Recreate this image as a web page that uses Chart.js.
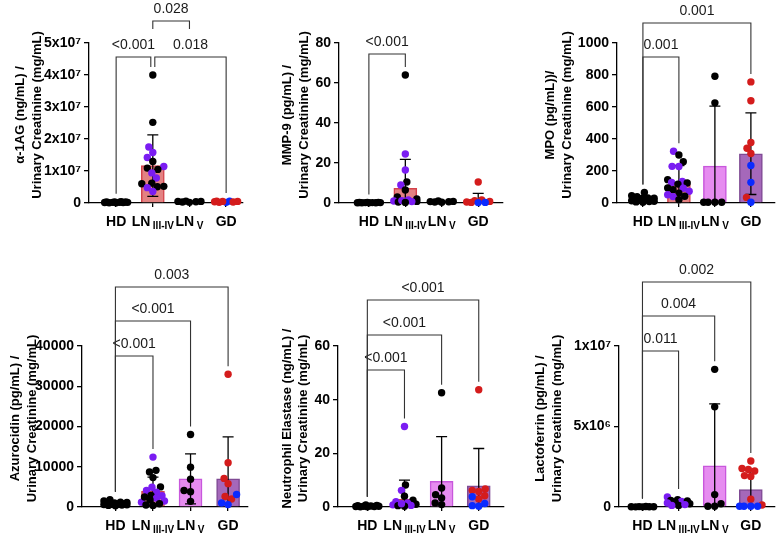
<!DOCTYPE html>
<html><head><meta charset="utf-8">
<script src="https://cdn.jsdelivr.net/npm/chart.js@4.4.1/dist/chart.umd.min.js"></script>
<style>
html,body{margin:0;padding:0;background:#fff;}
#wrap{position:relative;width:779px;height:537px;overflow:hidden;background:#fff;}
canvas{position:absolute;}
</style></head><body><div id="wrap"></div>
<script>
// ---------------- DATA ----------------
const categories = ['HD', 'LN', 'LN', 'GD'];
const categorySubscripts = ['', 'III-IV', 'V', ''];
// subgroup codes: k = black, p = purple, b = blue, r = red

// α-1AG
const a1agHD = [3e5, 1e5, 2e5, 4e5, 1.5e5, 2.5e5, 1e5, 3e5, 2e5, 3.5e5, 1.5e5];
const a1agLN = [4.0e7, 2.52e7, 1.75e7, 1.58e7, 1.42e7, 1.30e7, 1.14e7, 1.09e7, 1.05e7, 0.94e7, 0.78e7, 0.62e7, 0.60e7, 0.52e7, 0.51e7, 0.48e7, 0.36e7];
const a1agLNSub = ['k','k','p','p','p','k','p','k','k','p','p','k','k','k','k','p','p'];
const a1agLNV = [5e5, 3e5, 4e5, 6e5, 2e5, 5e5];
const a1agGD = [6e5, 2e5, 5e5, 4e5, 6e5, 3e5, 2e5, 5e5];
const a1agGDSub = ['b','b','r','r','r','r','r','r'];
const a1agMean = [2.5e5, 1.17e7, 4e5, 4e5];
const a1agSD = [1.2e5, 0.96e7, 1.5e5, 2e5];
const a1agYTicks = [0, 1e7, 2e7, 3e7, 4e7, 5e7];
const a1agYTickLabels = ['0', '1x10⁷', '2x10⁷', '3x10⁷', '4x10⁷', '5x10⁷'];
const a1agComparisons = [[0, 1, '<0.001'], [1, 3, '0.018'], [1, 2, '0.028']];

// MMP-9
const mmp9HD = [0.2, 0.1, 0.3, 0.15, 0.25, 0.1, 0.2, 0.3, 0.15, 0.2];
const mmp9LN = [64, 24.5, 16.5, 10.5, 9, 6.5, 3, 2, 1.5, 1, 0.8, 0.5, 1.2, 0.7, 0.3];
const mmp9LNSub = ['k','p','p','k','p','k','k','k','p','p','k','k','p','p','k'];
const mmp9LNV = [0.8, 0.5, 1.0, 0.6, 0.4, 0.7];
const mmp9GD = [10.5, 1.5, 1.2, 0.8, 0.5, 0.3, 0.3, 0.2];
const mmp9GDSub = ['r','r','r','r','r','r','b','b'];
const mmp9Mean = [0.2, 7.3, 0.65, 1.8];
const mmp9SD = [0.1, 14.5, 0.2, 3.0];
const mmp9YTicks = [0, 20, 40, 60, 80];
const mmp9YTickLabels = ['0', '20', '40', '60', '80'];
const mmp9Comparisons = [[0, 1, '<0.001']];

// MPO
const mpoHD = [66, 45, 40, 32, 28, 24, 20, 17, 14, 11, 9, 7, 5, 22, 30];
const mpoLN = [323, 300, 258, 229, 228, 146, 135, 128, 125, 118, 94, 92, 83, 73, 62, 52, 42, 40, 21];
const mpoLNSub = ['p','k','k','p','p','k','p','p','k','k','k','p','k','p','k','p','k','p','k'];
const mpoLNV = [792, 626, 5, 5, 5, 5];
const mpoGD = [757, 639, 378, 342, 309, 35, 234, 129, 5];
const mpoGDSub = ['r','r','r','r','r','r','b','b','b'];
const mpoMean = [25, 115, 230, 308];
const mpoSD = [15, 118, 375, 255];
const mpoYTicks = [0, 200, 400, 600, 800, 1000];
const mpoYTickLabels = ['0', '200', '400', '600', '800', '1000'];
const mpoComparisons = [[0, 1, '0.001'], [0, 3, '0.001']];

// Azurocidin
const azuHD = [1800, 1500, 1200, 1000, 900, 800, 700, 600, 500, 400, 300, 1100, 650, 550];
const azuLN = [12400, 9100, 8700, 7300, 5000, 4900, 4100, 3700, 2900, 2800, 2200, 1800, 1500, 1200, 800, 500, 400, 2500];
const azuLNSub = ['p','k','k','k','k','p','p','p','k','p','p','k','p','p','k','k','k','k'];
const azuLNV = [18000, 9900, 6900, 4100, 3800, 1400];
const azuGD = [33000, 11000, 7100, 5800, 2600, 2000, 3100, 1000, 600];
const azuGDSub = ['r','r','r','r','r','r','b','b','b'];
const azuMean = [900, 3900, 7000, 7000];
const azuSD = [500, 3500, 6200, 10400];
const azuYTicks = [0, 10000, 20000, 30000, 40000];
const azuYTickLabels = ['0', '10000', '20000', '30000', '40000'];
const azuComparisons = [[0, 1, '<0.001'], [0, 2, '<0.001'], [0, 3, '0.003']];

// Neutrophil Elastase
const neHD = [0.8, 0.5, 0.3, 0.2, 0.4, 0.1, 0.3, 0.2, 0.1, 0.6];
const neLN = [30, 8.2, 6.2, 4.0, 2.5, 2.0, 1.5, 1.0, 0.8, 0.5, 0.6, 0.3, 1.2];
const neLNSub = ['p','k','p','k','k','p','p','k','p','k','p','k','p'];
const neLNV = [42.6, 7.1, 4.6, 3.4, 1.5, 0.9];
const neGD = [43.7, 6.7, 6.2, 5.8, 4.2, 3.0, 3.8, 1.3, 0.5, 0.3];
const neGDSub = ['r','r','r','r','r','r','b','b','b','b'];
const neMean = [0.35, 2.9, 9.6, 7.9];
const neSD = [0.2, 7.1, 16.6, 13.9];
const neYTicks = [0, 20, 40, 60];
const neYTickLabels = ['0', '20', '40', '60'];
const neComparisons = [[0, 1, '<0.001'], [0, 2, '<0.001'], [0, 3, '<0.001']];

// Lactoferrin
const lfHD = [2e4, 1e4, 3e4, 1.5e4, 2.5e4, 1e4, 2e4];
const lfLN = [6.2e5, 4.5e5, 4.0e5, 3.5e5, 3.0e5, 2.5e5, 2.0e5, 1.0e5, 1.0e5, 3.8e5, 1.5e5];
const lfLNSub = ['p','k','k','p','k','p','k','k','p','k','p'];
const lfLNV = [8.55e6, 6.22e6, 0.77e6, 0.2e6, 0.05e6, 0.05e6];
const lfGD = [2.86e6, 2.39e6, 2.33e6, 2.24e6, 1.95e6, 1.9e6, 0.48e6, 0.12e6, 0.05e6, 0.05e6, 0.05e6, 0.05e6];
const lfGDSub = ['r','r','r','r','r','r','r','r','b','b','b','b'];
const lfMean = [2e4, 2.8e5, 2.55e6, 1.08e6];
const lfSD = [1e4, 1.5e5, 3.85e6, 1.2e6];
const lfYTicks = [0, 5e6, 1e7];
const lfYTickLabels = ['0', '5x10⁶', '1x10⁷'];
const lfComparisons = [[0, 1, '0.011'], [0, 2, '0.004'], [0, 3, '0.002']];

// ---------------- STYLE / LAYOUT ----------------
const FONT = "'Liberation Sans', Arial, Helvetica, sans-serif";
const pointColors = { k: '#000000', p: '#7a1cf2', b: '#0a2aff', r: '#d41c1c' };
const barFill = ['#ffffff', '#e38282', '#e68cf0', '#a568ba'];
const barLine = ['#000000', '#d4424a', '#c857dc', '#7f4a94'];

const panels = [
  { title: ['α-1AG (ng/mL) /', 'Urinary Creatinine (mg/mL)'], groups: [a1agHD, a1agLN, a1agLNV, a1agGD],
    subs: [null, a1agLNSub, null, a1agGDSub], mean: a1agMean, sd: a1agSD, yTicks: a1agYTicks, yLabels: a1agYTickLabels, comps: a1agComparisons },
  { title: ['MMP-9 (pg/mL) /', 'Urinary Creatinine (mg/mL)'], groups: [mmp9HD, mmp9LN, mmp9LNV, mmp9GD],
    subs: [null, mmp9LNSub, null, mmp9GDSub], mean: mmp9Mean, sd: mmp9SD, yTicks: mmp9YTicks, yLabels: mmp9YTickLabels, comps: mmp9Comparisons },
  { title: ['MPO (pg/mL))/', 'Urinary Creatinine (mg/mL)'], groups: [mpoHD, mpoLN, mpoLNV, mpoGD],
    subs: [null, mpoLNSub, null, mpoGDSub], mean: mpoMean, sd: mpoSD, yTicks: mpoYTicks, yLabels: mpoYTickLabels, comps: mpoComparisons },
  { title: ['Azurocidin (pg/mL) /', 'Urinary Creatinine (mg/mL)'], groups: [azuHD, azuLN, azuLNV, azuGD],
    subs: [null, azuLNSub, null, azuGDSub], mean: azuMean, sd: azuSD, yTicks: azuYTicks, yLabels: azuYTickLabels, comps: azuComparisons },
  { title: ['Neutrophil Elastase (ng/mL) /', 'Urinary Creatinine (mg/mL)'], groups: [neHD, neLN, neLNV, neGD],
    subs: [null, neLNSub, null, neGDSub], mean: neMean, sd: neSD, yTicks: neYTicks, yLabels: neYTickLabels, comps: neComparisons },
  { title: ['Lactoferrin (pg/mL) /', 'Urinary Creatinine (mg/mL)'], groups: [lfHD, lfLN, lfLNV, lfGD],
    subs: [null, lfLNSub, null, lfGDSub], mean: lfMean, sd: lfSD, yTicks: lfYTicks, yLabels: lfYTickLabels, comps: lfComparisons }
];

const layouts = [
  { left: 0, top: 0, w: 260, h: 260, l: 89, r: 243, t: 43, b: 203, xMin: -0.74, xMax: 3.46, titleX: [20, 37],
    br: [{ y: 57, nb: -2 }, { y: 57, na: 2 }, { y: 21, legs: 29 }] },
  { left: 260, top: 0, w: 260, h: 260, l: 79, r: 243, t: 43, b: 203, xMin: -0.82, xMax: 3.68, titleX: [27, 44],
    br: [{ y: 54 }] },
  { left: 520, top: 0, w: 259, h: 260, l: 97, r: 259, t: 43, b: 203, xMin: -0.72, xMax: 3.67, titleX: [30, 47],
    br: [{ y: 57 }, { y: 23 }] },
  { left: 0, top: 260, w: 260, h: 277, l: 82, r: 248, t: 86, b: 247, xMin: -0.89, xMax: 3.53, titleX: [15, 32],
    br: [{ y: 96 }, { y: 61 }, { y: 27 }] },
  { left: 260, top: 260, w: 260, h: 277, l: 78, r: 244, t: 86, b: 247, xMin: -0.79, xMax: 3.68, titleX: [27, 43],
    br: [{ y: 110 }, { y: 75 }, { y: 40 }] },
  { left: 520, top: 260, w: 259, h: 277, l: 99, r: 259, t: 86, b: 247, xMin: -0.65, xMax: 3.67, titleX: [20, 37],
    br: [{ y: 91 }, { y: 56 }, { y: 22 }] }
];

const POINT_R = 3.7;

// simple beeswarm (layout only): horizontal offsets so dots do not pile up
function swarm(values, pxX, pxY) {
  const D = 2 * POINT_R * 0.9, H = 11.5;
  const idx = values.map((v, i) => i).sort((i, j) => values[i] - values[j]);
  const placed = [];
  const off = new Array(values.length).fill(0);
  idx.forEach(i => {
    const y = values[i] * pxY;
    let best = 0, bestCost = Infinity;
    for (let s = 0; s <= 2 * H * 2; s++) {
      const dx = (s % 2 === 0 ? 1 : -1) * Math.ceil(s / 2) * 0.5;
      if (Math.abs(dx) > H) continue;
      let cost = 0.003 * dx * dx;
      placed.forEach(p => { const d = Math.hypot(dx - p.x, y - p.y); if (d < D) cost += (D - d) * (D - d); });
      if (cost < bestCost - 1e-9) { bestCost = cost; best = dx; }
    }
    placed.push({ x: best, y });
    off[i] = best / pxX;
  });
  return off;
}

function makeDecor(P, L) {
  return {
    id: 'decor',
    afterDatasetDraw(chart, args) {
      if (args.index !== 0) return;
      const xs = chart.scales.x, ys = chart.scales.y, ctx = chart.ctx;
      ctx.save();
      ctx.strokeStyle = '#000'; ctx.lineWidth = 1.3;
      const cap = 11;
      P.mean.forEach((m, i) => {
        const x = xs.getPixelForValue(i);
        const hi = ys.getPixelForValue(m + P.sd[i]);
        const lowVal = m - P.sd[i];
        const lo = ys.getPixelForValue(Math.max(0, lowVal));
        ctx.beginPath();
        ctx.moveTo(x, hi); ctx.lineTo(x, lo);
        ctx.moveTo(x - cap / 2, hi); ctx.lineTo(x + cap / 2, hi);
        if (lowVal > 0) { ctx.moveTo(x - cap / 2, lo); ctx.lineTo(x + cap / 2, lo); }
        ctx.stroke();
      });
      ctx.restore();
    },
    afterDraw(chart) {
      const xs = chart.scales.x, ys = chart.scales.y, ctx = chart.ctx;
      ctx.save();
      // significance brackets
      ctx.strokeStyle = '#333'; ctx.lineWidth = 1.1;
      ctx.fillStyle = '#1a1a1a';
      ctx.font = '14px ' + FONT;
      ctx.textAlign = 'center'; ctx.textBaseline = 'alphabetic';
      P.comps.forEach((c, k) => {
        const [a, b, text] = c;
        const B = L.br[k];
        const xa = xs.getPixelForValue(a) + (B.na || 0);
        const xb = xs.getPixelForValue(b) + (B.nb || 0);
        const legEnd = g => B.legs !== undefined ? B.legs
          : Math.max(B.y + 4, ys.getPixelForValue(Math.max(...P.groups[g])) - 8);
        ctx.beginPath();
        ctx.moveTo(xa, legEnd(a)); ctx.lineTo(xa, B.y); ctx.lineTo(xb, B.y); ctx.lineTo(xb, legEnd(b));
        ctx.stroke();
        ctx.fillText(text, (xa + xb) / 2, B.y - 8.5);
      });
      // x category labels with subscripts
      ctx.fillStyle = '#000';
      ctx.textAlign = 'left';
      const base = L.b + 22.5;
      categories.forEach((c, i) => {
        ctx.font = 'bold 14px ' + FONT;
        const w1 = ctx.measureText(c).width;
        const sub = categorySubscripts[i];
        ctx.font = 'bold 10px ' + FONT;
        const w2 = sub ? ctx.measureText(sub).width : 0;
        const gap = sub ? 2.5 : 0;
        const x0 = xs.getPixelForValue(i) - (w1 + gap + w2) / 2;
        ctx.font = 'bold 14px ' + FONT;
        ctx.fillText(c, x0, base);
        if (sub) { ctx.font = 'bold 10px ' + FONT; ctx.fillText(sub, x0 + w1 + gap, base + 3.5); }
      });
      // y-axis title (two lines)
      ctx.font = 'bold 13px ' + FONT;
      ctx.textAlign = 'center'; ctx.textBaseline = 'middle';
      const cy = (L.t + L.b) / 2 - 8;
      P.title.forEach((line, k) => {
        ctx.save();
        ctx.translate(L.titleX[k], cy);
        ctx.rotate(-Math.PI / 2);
        ctx.fillText(line, 0, 0);
        ctx.restore();
      });
      ctx.restore();
    }
  };
}

Chart.defaults.font.family = FONT;
const wrap = document.getElementById('wrap');

panels.forEach((P, pi) => {
  const L = layouts[pi];
  const cv = document.createElement('canvas');
  cv.width = L.w; cv.height = L.h;
  cv.style.left = L.left + 'px'; cv.style.top = L.top + 'px';
  cv.style.width = L.w + 'px'; cv.style.height = L.h + 'px';
  wrap.appendChild(cv);

  const yMax = P.yTicks[P.yTicks.length - 1];
  const pxX = (L.r - L.l) / (L.xMax - L.xMin);
  const pxY = (L.b - L.t) / yMax;
  const pts = [], cols = [];
  P.groups.forEach((vals, g) => {
    const off = swarm(vals, pxX, pxY);
    vals.forEach((v, i) => {
      pts.push({ x: g + off[i], y: v });
      cols.push(pointColors[P.subs[g] ? P.subs[g][i] : 'k']);
    });
  });

  new Chart(cv, {
    type: 'bar',
    data: {
      datasets: [
        { type: 'bar', data: P.mean.map((m, i) => ({ x: i, y: m })), backgroundColor: barFill, borderColor: barLine,
          borderWidth: 1.5, barThickness: 23, order: 2, clip: false },
        { type: 'scatter', data: pts, pointBackgroundColor: cols, pointBorderColor: cols, pointBorderWidth: 0,
          pointRadius: POINT_R, order: 1, clip: false, showLine: false }
      ]
    },
    options: {
      responsive: false, animation: false, devicePixelRatio: 1, events: [],
      layout: { padding: { left: 0, top: L.t, right: L.w - L.r, bottom: 0 } },
      plugins: { legend: { display: false }, tooltip: { enabled: false } },
      scales: {
        x: {
          type: 'linear', min: L.xMin, max: L.xMax, offset: false,
          grid: { display: true, offset: false, drawOnChartArea: false, drawTicks: true, tickLength: 4, color: '#000', lineWidth: 1.3 },
          border: { display: true, color: '#000', width: 1.3 },
          ticks: { display: false },
          afterBuildTicks(s) { s.ticks = [0, 1, 2, 3].map(v => ({ value: v })); },
          afterFit(s) { s.height = L.h - L.b; }
        },
        y: {
          type: 'linear', min: 0, max: yMax,
          grid: { display: true, drawOnChartArea: false, drawTicks: true, tickLength: 5, color: '#000', lineWidth: 1.3 },
          border: { display: true, color: '#000', width: 1.3 },
          ticks: { color: '#000', padding: 3, font: { size: 14, weight: 'bold' }, autoSkip: false,
            callback: (v, i) => P.yLabels[i] },
          afterBuildTicks(s) { s.ticks = P.yTicks.map(v => ({ value: v })); },
          afterFit(s) { s.width = L.l; }
        }
      }
    },
    plugins: [makeDecor(P, L)]
  });
});
</script>
</body></html>
